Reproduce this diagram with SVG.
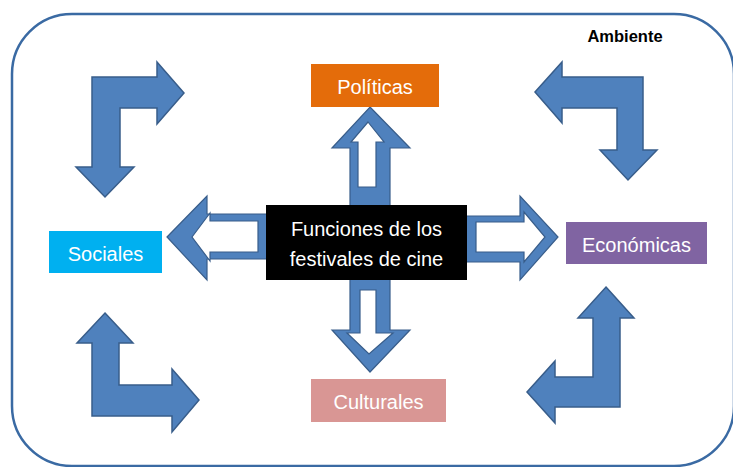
<svg xmlns="http://www.w3.org/2000/svg" width="733" height="467" viewBox="0 0 733 467">
<style>
.bent{fill:#4F81BD;stroke:#385D8A;stroke-width:1.5;stroke-linejoin:miter}
.outer{fill:#4F81BD;stroke:#385D8A;stroke-width:1.2}
.inner{fill:#FFFFFF;stroke:#385D8A;stroke-width:1.2}
.lbl{font-family:"Liberation Sans",Arial,sans-serif;font-size:20px;fill:#FFFFFF;text-anchor:middle}
</style>
<rect width="733" height="467" fill="#FFFFFF"/>
<g id="ambiente">
<rect x="12" y="14" width="722" height="452" rx="60" ry="60" fill="none" stroke="#3A6AA3" stroke-width="2.5"/>
<text x="625" y="42" font-family="'Liberation Sans',Arial,sans-serif" font-size="16.5" font-weight="bold" fill="#000" text-anchor="middle">Ambiente</text>
</g>
<g id="connectors">
<polygon class="bent" points="92,77 157,77 157,62 184,93 157,124 157,108 120,108 120,167 134,167 105,197 76,167 92,167"/>
<polygon class="bent" points="535,92 562,62 562,77 643,77 643,150 657,150 628,180 600,150 617,150 617,108 562,108 562,123"/>
<polygon class="bent" points="105,313 133,343 119,343 119,385 172,385 172,369 199,400 172,432 172,416 92,416 92,343 77,343"/>
<polygon class="bent" points="606,287 634,318 620,318 620,407 555,407 555,423 527,392 555,361 555,377 593,377 593,318 578,318"/>
<!-- up -->
<polygon class="outer" points="370,107 410,148 390,148 390,215 350,215 350,148 332,148"/>
<polygon class="inner" points="368,122 384,142 376,142 376,187 358,187 358,142 351,142"/>
<!-- down -->
<polygon class="outer" points="350,270 390,270 390,330 410,330 370,372 332,330 350,330"/>
<polygon class="inner" points="360,290 376,290 376,333 393,333 369,354 347,333 360,333"/>
<!-- left -->
<polygon class="outer" points="167,237 207,196 207,214 275,214 275,259 207,259 207,280"/>
<polygon class="inner" points="192,237 210,213 210,221 258,221 258,252 210,252 210,261"/>
<!-- right -->
<polygon class="outer" points="460,216 520,216 520,196 558,237 520,280 520,262 460,262"/>
<polygon class="inner" points="476,222 524,222 524,212 545,237 524,262 524,252 476,252"/>
</g>
<g id="center">
<rect x="266" y="205" width="201" height="75" fill="#000000"/>
<text class="lbl" x="366.5" y="236" font-size="21">Funciones de los</text>
<text class="lbl" x="366.5" y="266" font-size="21">festivales de cine</text>
</g>
<g id="politicas">
<rect x="311" y="64" width="128" height="43" fill="#E46C0A"/>
<text class="lbl" x="375" y="94">Políticas</text>
</g>
<g id="sociales">
<rect x="49" y="231" width="113" height="42" fill="#00B0F0"/>
<text class="lbl" x="105.5" y="261">Sociales</text>
</g>
<g id="economicas">
<rect x="566" y="222" width="141" height="42" fill="#8064A2"/>
<text class="lbl" x="636.5" y="252">Económicas</text>
</g>
<g id="culturales">
<rect x="311" y="379" width="135" height="43" fill="#D99694"/>
<text class="lbl" x="378.5" y="409">Culturales</text>
</g>
</svg>
